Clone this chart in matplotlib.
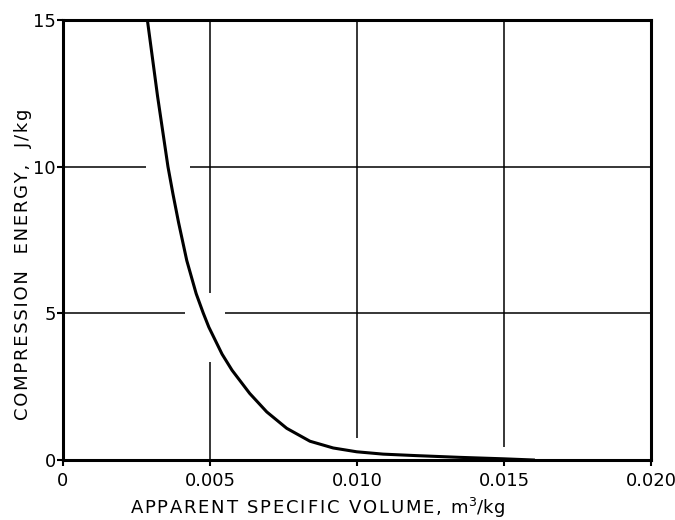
import matplotlib
matplotlib.use("Agg")
import matplotlib.pyplot as plt

# Data
volume = [0.00287, 0.003215, 0.00357, 0.00374, 0.00393, 0.00421, 0.00453, 0.00477,
          0.00496, 0.00541, 0.00575, 0.00635, 0.00693, 0.00761, 0.00840, 0.00919,
          0.00999, 0.01089, 0.0120, 0.0135, 0.0150, 0.0160]
energy = [15.0, 12.41, 10.0, 9.07, 8.10, 6.80, 5.67, 5.01,
          4.53, 3.61, 3.06, 2.27, 1.64, 1.08, 0.64, 0.41,
          0.28, 0.20, 0.15, 0.09, 0.04, 0.0]

x_ticks = [0, 0.005, 0.010, 0.015, 0.020]
x_tick_labels = ["0", "0.005", "0.010", "0.015", "0.020"]
y_ticks = [0, 5, 10, 15]
y_tick_labels = ["0", "5", "10", "15"]

x_label_text = "APPARENT SPECIFIC VOLUME, m"
x_label_math = "$^3$/kg"
y_label_text = "COMPRESSION  ENERGY,  J/kg"

# horizontal grid segments (y, [(x0, x1), ...]) - broken around the curve as in the original
h_grid = [(10, [(0, 0.00281), (0.00432, 0.020)]),
          (5, [(0, 0.00415), (0.00551, 0.020)])]
# vertical grid segments (x, [(y0, y1), ...])
v_grid = [(0.005, [(5.70, 15), (0, 3.33)]),
          (0.010, [(0.75, 15)]),
          (0.015, [(0.44, 15)])]


def spaced(s, sep):
    return sep.join(s)


plt.rcParams['font.family'] = ['DejaVu Sans']
plt.rcParams['mathtext.fontset'] = 'dejavusans'

fig = plt.figure(figsize=(6.75, 5.2), dpi=100)
ax = fig.add_axes([63 / 675, 1 - 460 / 520, 588 / 675, 440 / 520])

for yv, segs in h_grid:
    for x0, x1 in segs:
        ax.plot([x0, x1], [yv, yv], color='black', lw=1.1, solid_capstyle='butt', zorder=1)
for xv, segs in v_grid:
    for y0, y1 in segs:
        ax.plot([xv, xv], [y0, y1], color='black', lw=1.1, solid_capstyle='butt', zorder=1)

ax.plot(volume, energy, color='black', lw=2.2, zorder=3, solid_joinstyle='round')

ax.set_xlim(0, 0.020)
ax.set_ylim(0, 15)
ax.set_xticks(x_ticks)
ax.set_xticklabels(x_tick_labels)
ax.set_yticks(y_ticks)
ax.set_yticklabels(y_tick_labels)
ax.tick_params(axis='both', direction='out', length=4, width=1.5, labelsize=13,
               colors='black')
ax.tick_params(axis='x', pad=5)
ax.tick_params(axis='y', pad=1)

for s in ax.spines.values():
    s.set_linewidth(2.2)
    s.set_color('black')

fig.text(317 / 675, 1 - 508 / 520, spaced(x_label_text, '\u200a') + x_label_math,
         ha='center', va='center', fontsize=13)
fig.text(23 / 675, 1 - 264 / 520, spaced(y_label_text, '\u200a'),
         ha='center', va='center', fontsize=13, rotation=90)

fig.savefig("out.png", dpi=100, facecolor='white')
